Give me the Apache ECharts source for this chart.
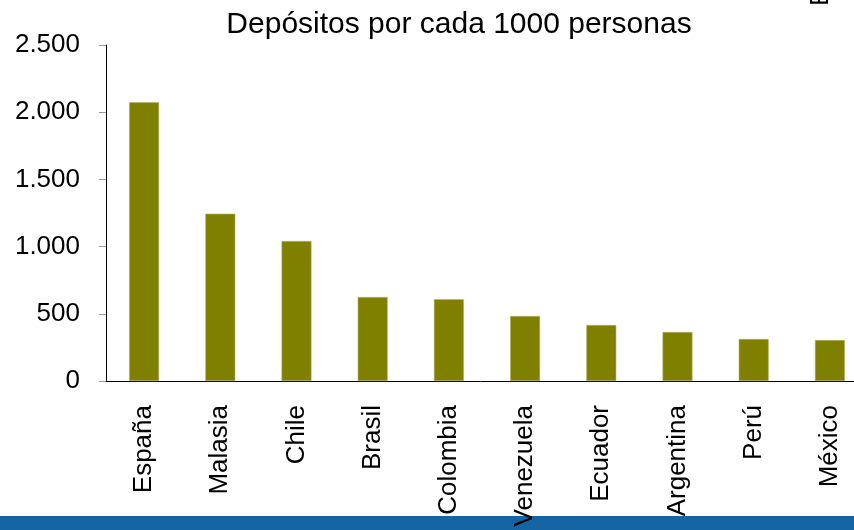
<!DOCTYPE html>
<html>
<head>
<meta charset="utf-8">
<script src="https://cdn.jsdelivr.net/npm/echarts@6/dist/echarts.min.js"></script>
<style>
  html, body { margin: 0; padding: 0; background: #fff; }
  #chart { width: 854px; height: 530px; }
</style>
</head>
<body>
<div id="chart"></div>
<script>
const countries = ['España', 'Malasia', 'Chile', 'Brasil', 'Colombia', 'Venezuela', 'Ecuador', 'Argentina', 'Perú', 'México']
const deposits = [2074, 1245, 1042, 625, 608, 484, 417, 365, 313, 305]
const yTicks = { min: 0, max: 2500, interval: 500 }

const FONT = 'Liberation Sans, Arial, sans-serif'
const chart = echarts.init(document.getElementById('chart'))

// thousands separator with a dot, as in the original
const fmt = v => String(v).replace(/\B(?=(\d{3})+(?!\d))/g, '.')

chart.setOption({
  animation: false,
  textStyle: { fontFamily: FONT },
  title: {
    text: 'Depósitos por cada 1000 personas',
    left: 454,
    textAlign: 'center',
    top: 5,
    textStyle: { fontSize: 30, fontWeight: 'normal', color: '#000', fontFamily: FONT }
  },
  grid: { left: 106, top: 45, width: 762, height: 336, outerBoundsMode: 'none' },
  xAxis: {
    type: 'category',
    data: countries,
    axisLine: { lineStyle: { color: '#000', width: 1 } },
    axisTick: { length: 7, lineStyle: { color: '#333' } },
    axisLabel: {
      rotate: 90,
      margin: 24,
      fontSize: 26,
      color: '#000',
      interval: 0
    }
  },
  yAxis: {
    type: 'value',
    min: yTicks.min,
    max: yTicks.max,
    interval: yTicks.interval,
    splitLine: { show: false },
    axisLine: { show: true, lineStyle: { color: '#000', width: 1 } },
    axisTick: { show: true, length: 7, lineStyle: { color: '#999' } },
    axisLabel: {
      fontSize: 26,
      color: '#000',
      margin: 26,
      formatter: fmt
    }
  },
  series: [
    {
      type: 'bar',
      data: deposits,
      barWidth: 30,
      itemStyle: { color: '#808000', borderColor: '#b5b56a', borderWidth: 0.6 }
    }
  ],
  graphic: [
    {
      type: 'rect',
      z: -1,
      shape: { x: 0, y: 516, width: 854, height: 14 },
      style: { fill: '#1565a5' }
    },
    {
      type: 'text',
      x: 821,
      y: 6,
      rotation: Math.PI / 2,
      style: { text: 'Elaboración propia', fontSize: 26, fill: '#000', textAlign: 'left', textVerticalAlign: 'middle', fontFamily: FONT }
    }
  ]
})

window.addEventListener('resize', () => chart.resize())
</script>
</body>
</html>
